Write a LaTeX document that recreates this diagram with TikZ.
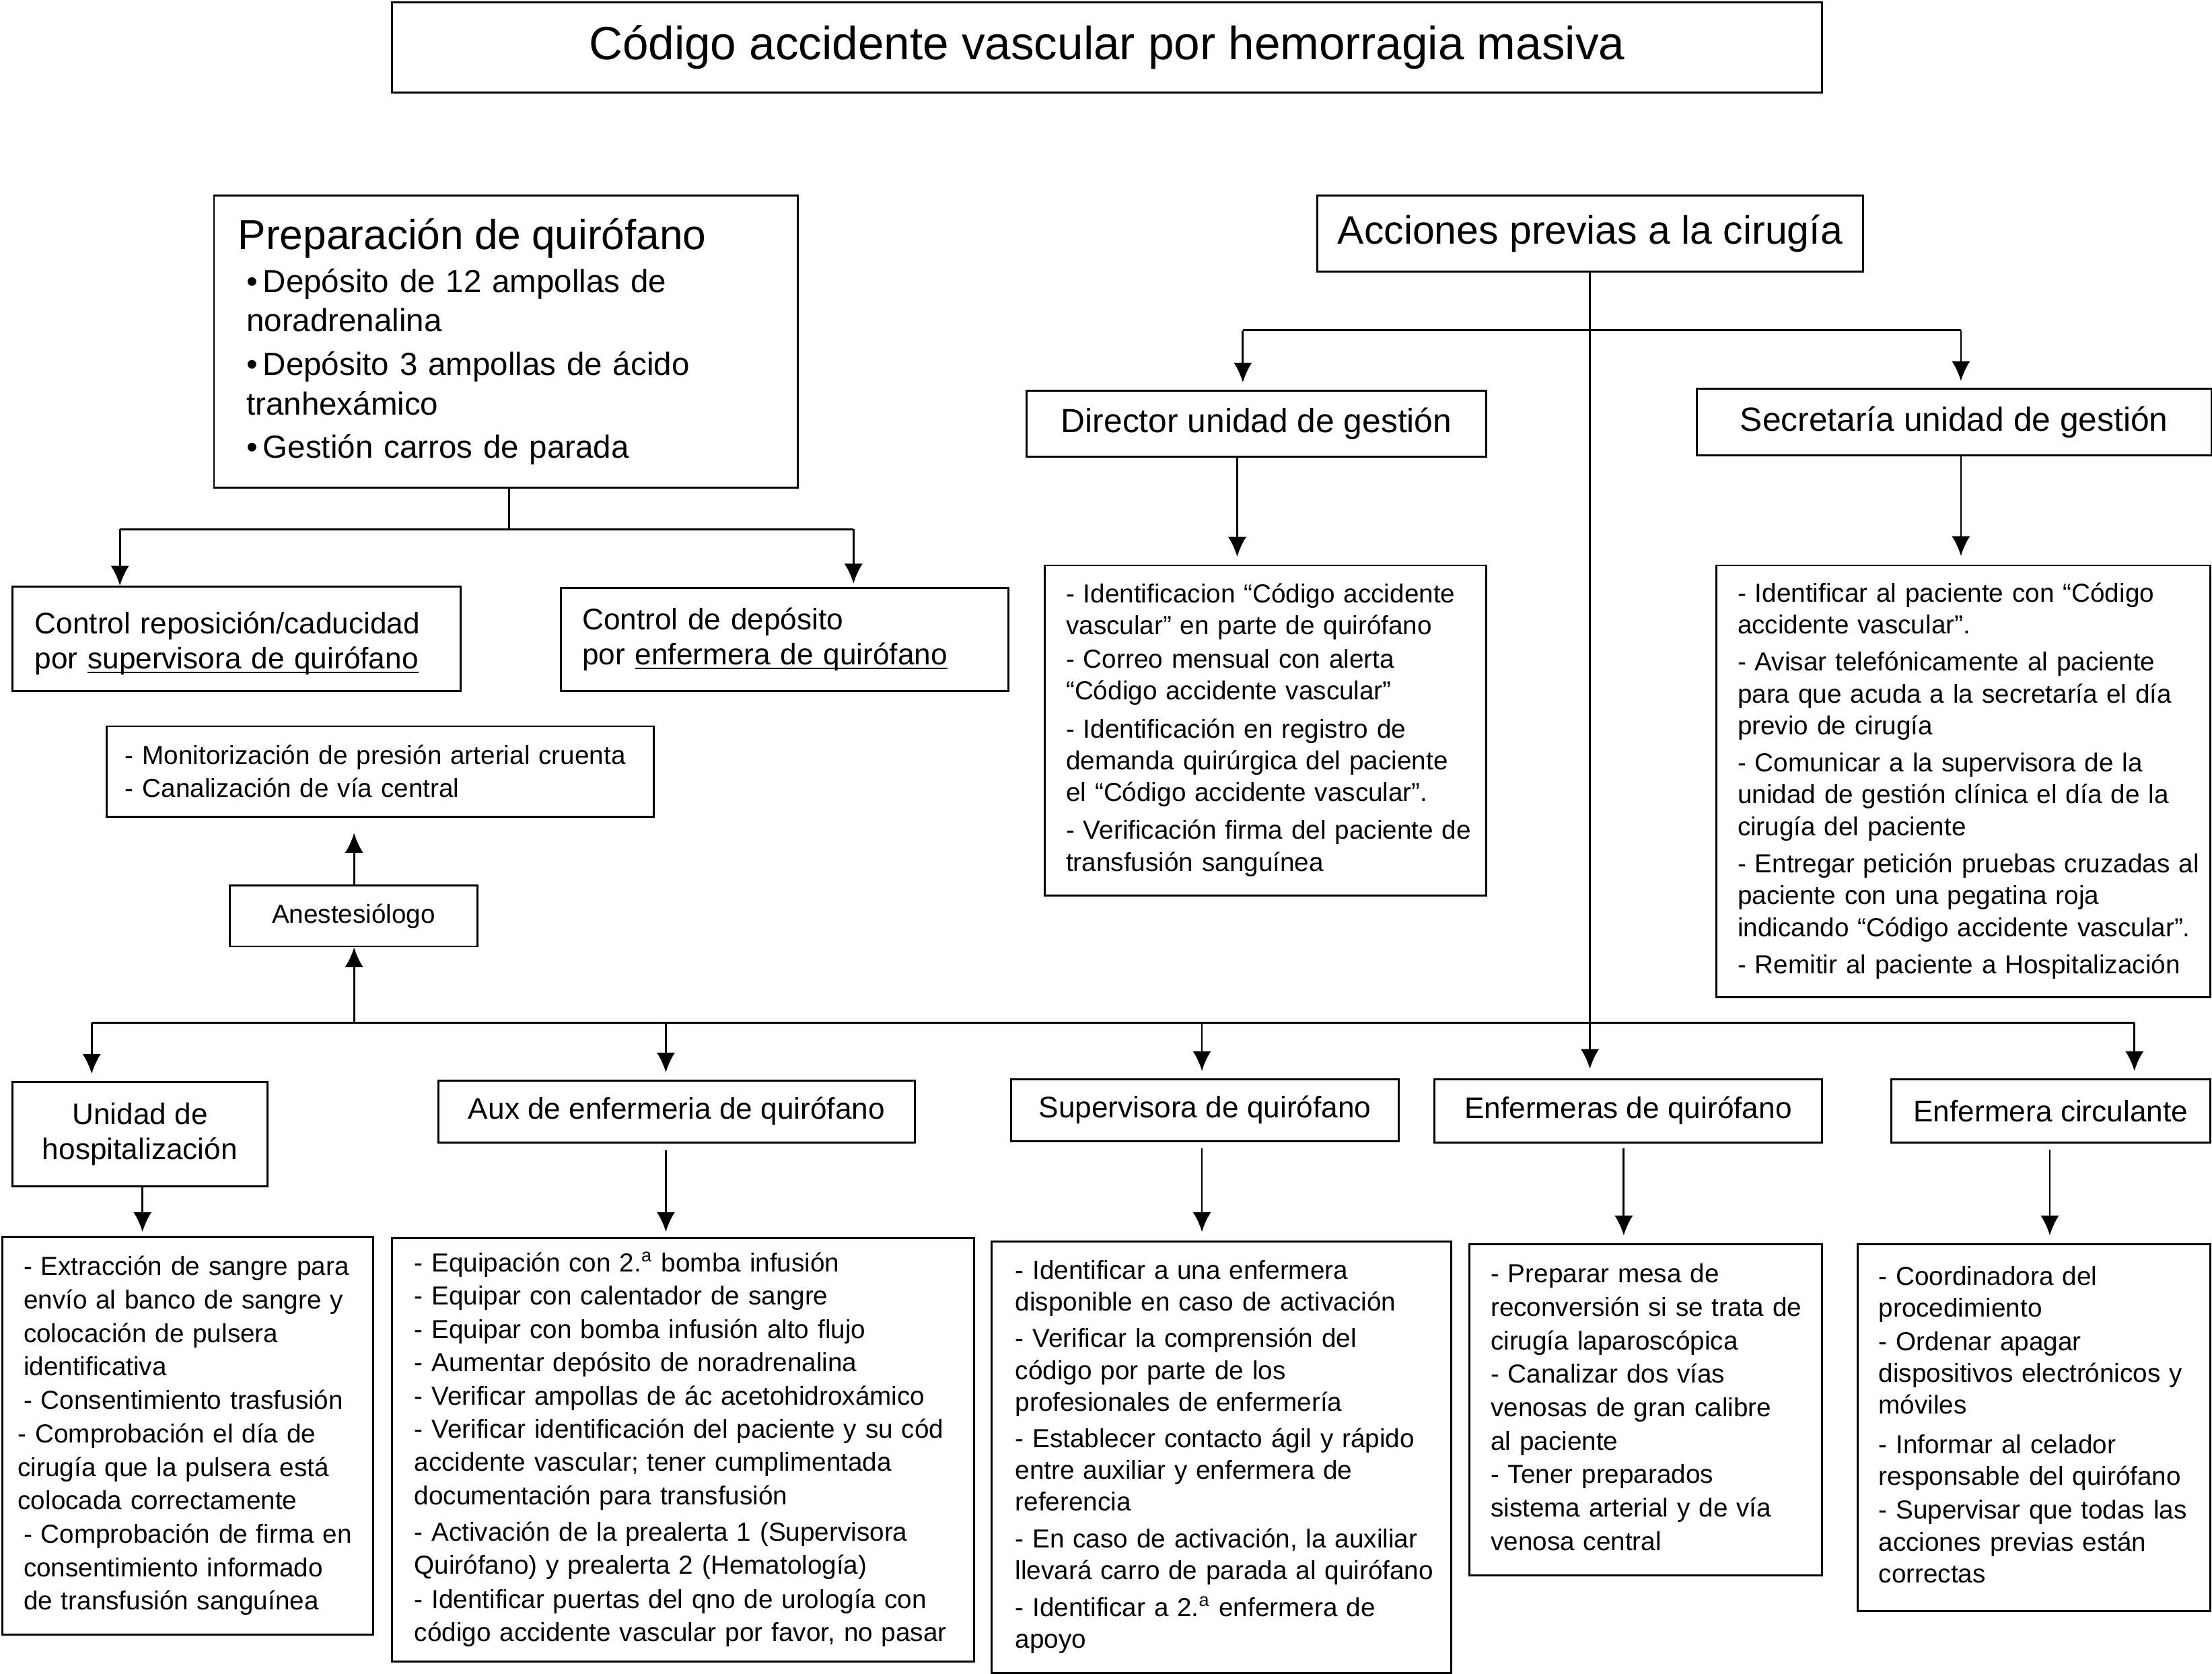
\documentclass[tikz,border=0pt]{standalone}
\usepackage{fontspec}
\setmainfont{Liberation Sans}
\usetikzlibrary{arrows.meta}

\newcommand\sztitle{\fontsize{18.8}{22}\selectfont}
\newcommand\szprep{\fontsize{16.9}{20}\selectfont}
\newcommand\szacc{\fontsize{16}{19}\selectfont}
\newcommand\szsub{\fontsize{13.5}{16}\selectfont}
\newcommand\szitem{\fontsize{12.9}{15.9}\selectfont}
\newcommand\szhead{\fontsize{12}{14.2}\selectfont}
\newcommand\szlist{\fontsize{10.5}{12.8}\selectfont}
\newcommand\cardlines[1]{\begin{tabular}{@{}l@{}}#1\end{tabular}}
\newcommand\uln[1]{\underline{\smash{#1}}}

\begin{document}
\begin{tikzpicture}[x = 0.02cm, y = -0.02cm, > = {Latex[length = 2.8mm, width = 2.6mm]},
	box/.style = {draw, line width = 0.8pt, inner sep = 0pt, anchor = north west},
	card/.style = {box, align = left, inner xsep = 0.3cm, font = \szlist},
	wire/.style = {line width = 0.75pt},
	feed/.style = {wire, ->}]

\useasboundingbox (0, 0) rectangle (1568, 1186);

% Title

\node [box, minimum width = 20.28cm, minimum height = 1.28cm, font = \sztitle] (title) at (277, 1) {Código accidente vascular por hemorragia masiva};

% Preparacion de quirofano

\node [box, align = left, text width = 7.6cm, inner xsep = 0.34cm, minimum height = 4.14cm, font = \szitem] (prep) at (151, 138)
	{{\szprep Preparación de quirófano}\\[1.4pt]
	\hspace*{0.12cm}•\,Depósito de 12 ampollas de\\ \hspace*{0.12cm}noradrenalina\\[1.7pt]
	\hspace*{0.12cm}•\,Depósito 3 ampollas de ácido\\ \hspace*{0.12cm}tranhexámico\\[1.7pt]
	\hspace*{0.12cm}•\,Gestión carros de parada};

\node [box, align = left, text width = 5.72cm, inner xsep = 0.32cm, minimum height = 1.48cm, font = \szhead] (ctrlrep) at (8, 415)
	{\rule{0pt}{12.6pt}Control reposición/caducidad\\ por \uln{supervisora de quirófano}};
\node [box, align = left, text width = 5.74cm, inner xsep = 0.3cm, minimum height = 1.46cm, font = \szhead] (ctrldep) at (397, 416)
	{Control de depósito\\ por \uln{enfermera de quirófano}};

\coordinate (prepjoin) at (361, 375);
\coordinate (ctrlrepin) at (85, 375);
\coordinate (ctrldepin) at (605, 375);

\draw [wire] (prep.south -| prepjoin) -- (prepjoin);
\draw [wire] (ctrlrepin) -- (ctrldepin);
\draw [feed] (ctrlrepin) -- (ctrlrepin |- ctrlrep.north);
\draw [feed, shorten > = 0.05cm] (ctrldepin) -- (ctrldepin |- ctrldep.north);

% Anestesiologo

\node [card, text width = 7.24cm, inner xsep = 0.26cm, minimum height = 1.28cm, font = \fontsize{10.5}{13.1}\selectfont] (monit) at (75, 514)
	{\cardlines{\rule{0pt}{11.5pt}- Monitorización de presión arterial cruenta\\ - Canalización de vía central}};
\node [box, minimum width = 3.52cm, minimum height = 0.86cm, font = \szlist] (anest) at (162, 627) {Anestesiólogo};

% Acciones previas a la cirugia

\node [box, minimum width = 7.74cm, minimum height = 1.08cm, font = \szacc] (acc) at (933, 138) {Acciones previas a la cirugía};
\node [box, minimum width = 6.52cm, minimum height = 0.94cm, font = \szsub] (dirhead) at (727, 276) {Director unidad de gestión};
\node [box, minimum width = 7.3cm, minimum height = 0.94cm, font = \szsub] (sechead) at (1202, 275) {Secretaría unidad de gestión};

\node [card, text width = 5.66cm, minimum height = 4.68cm] (dirlist) at (740, 400)
	{\cardlines{- Identificacion “Código accidente\\ vascular” en parte de quirófano\\[0.85pt]
	- Correo mensual con alerta\\ “Código accidente vascular”\\[2.5pt]
	- Identificación en registro de\\ demanda quirúrgica del paciente\\ el “Código accidente vascular”.\\[2.5pt]
	- Verificación firma del paciente de\\ transfusión sanguínea}};

\node [card, text width = 6.4cm, minimum height = 6.12cm, font = \fontsize{10.5}{12.9}\selectfont] (seclist) at (1216, 400)
	{\cardlines{- Identificar al paciente con “Código\\ accidente vascular”.\\[2pt]
	- Avisar telefónicamente al paciente\\ para que acuda a la secretaría el día\\ previo de cirugía\\[2pt]
	- Comunicar a la supervisora de la\\ unidad de gestión clínica el día de la\\ cirugía del paciente\\[2pt]
	- Entregar petición pruebas cruzadas al\\ paciente con una pegatina roja\\ indicando “Código accidente vascular”.\\[2pt]
	- Remitir al paciente a Hospitalización}};

\coordinate (dirin) at (881, 234);
\coordinate (secin) at (1390, 234);
\coordinate (dirout) at (877, 0);

\draw [wire] (dirin) -- (secin);
\draw [feed, shorten > = 0.1cm] (dirin) -- (dirin |- dirhead.north);
\draw [feed, shorten > = 0.1cm] (secin) -- (secin |- sechead.north);
\draw [feed, shorten > = 0.11cm] (dirout |- dirhead.south) -- (dirout |- dirlist.north);
\draw [feed, shorten > = 0.12cm] (secin |- sechead.south) -- (secin |- seclist.north);

% Personal de quirofano

\node [box, align = center, minimum width = 3.62cm, minimum height = 1.48cm, font = \szhead] (hosphead) at (8, 766) {Unidad de\\ hospitalización};
\node [box, minimum width = 6.76cm, minimum height = 0.88cm, font = \szhead] (auxhead) at (310, 765) {Aux de enfermeria de quirófano};
\node [box, minimum width = 5.5cm, minimum height = 0.88cm, font = \szhead] (suphead) at (716, 764) {Supervisora de quirófano};
\node [box, minimum width = 5.5cm, minimum height = 0.9cm, font = \szhead] (enfhead) at (1016, 764) {Enfermeras de quirófano};
\node [box, minimum width = 4.52cm, minimum height = 0.9cm, font = \szhead] (circhead) at (1340, 764) {Enfermera circulante};

\node [card, text width = 4.66cm, minimum height = 5.64cm, font = \fontsize{10.5}{13.5}\selectfont] (hosplist) at (1, 876)
	{\cardlines{- Extracción de sangre para\\ envío al banco de sangre y\\ colocación de pulsera\\ identificativa\\
	- Consentimiento trasfusión\\
	\hspace*{-0.08cm}- Comprobación el día de\\ \hspace*{-0.08cm}cirugía que la pulsera está\\ \hspace*{-0.08cm}colocada correctamente\\
	- Comprobación de firma en\\ consentimiento informado\\ de transfusión sanguínea}};

\node [card, text width = 7.62cm, inner xsep = 0.32cm, minimum height = 6cm, font = \fontsize{10.5}{13.4}\selectfont] (auxlist) at (277, 877)
	{\cardlines{- Equipación con 2.\textsuperscript{a} bomba infusión\\
	- Equipar con calentador de sangre\\
	- Equipar con bomba infusión alto flujo\\
	- Aumentar depósito de noradrenalina\\
	- Verificar ampollas de ác acetohidroxámico\\
	- Verificar identificación del paciente y su cód\\ accidente vascular; tener cumplimentada\\ documentación para transfusión\\[1.4pt]
	- Activación de la prealerta 1 (Supervisora\\ Quirófano) y prealerta 2 (Hematología)\\[0.3pt]
	- Identificar puertas del qno de urología con\\ código accidente vascular por favor, no pasar}};

\node [card, text width = 5.84cm, inner xsep = 0.34cm, minimum height = 6.12cm] (suplist) at (702, 879)
	{\cardlines{- Identificar a una enfermera\\ disponible en caso de activación\\[2pt]
	- Verificar la comprensión del\\ código por parte de los\\ profesionales de enfermería\\[2pt]
	- Establecer contacto ágil y rápido\\ entre auxiliar y enfermera de\\ referencia\\[2pt]
	- En caso de activación, la auxiliar\\ llevará carro de parada al quirófano\\[2pt]
	- Identificar a 2.\textsuperscript{a} enfermera de\\ apoyo}};

\node [card, text width = 4.4cm, minimum height = 4.7cm, font = \fontsize{10.5}{13.5}\selectfont] (enflist) at (1041, 881)
	{\cardlines{- Preparar mesa de\\ reconversión si se trata de\\ cirugía laparoscópica\\
	- Canalizar dos vías\\ venosas de gran calibre\\ al paciente\\
	- Tener preparados\\ sistema arterial y de vía\\ venosa central}};

\node [card, text width = 4.4cm, minimum height = 5.2cm] (circlist) at (1316, 881)
	{\cardlines{- Coordinadora del\\ procedimiento\\[0.85pt]
	- Ordenar apagar\\ dispositivos electrónicos y\\ móviles\\[3.1pt]
	- Informar al celador\\ responsable del quirófano\\[0.85pt]
	- Supervisar que todas las\\ acciones previas están\\ correctas}};

\coordinate (hospin) at (65, 725);
\coordinate (anestin) at (251, 725);
\coordinate (auxin) at (472, 725);
\coordinate (supin) at (852, 725);
\coordinate (enfin) at (1127, 725);
\coordinate (circin) at (1513, 725);
\coordinate (hospout) at (101, 0);
\coordinate (enfout) at (1151, 0);
\coordinate (circout) at (1453, 0);

\draw [wire] (hospin) -- (circin);
\draw [feed, shorten > = 0.13cm] (acc.south -| enfin) -- (enfin |- enfhead.north);
\draw [feed] (anestin) -- (anestin |- anest.south);
\draw [feed, shorten > = 0.22cm] (anestin |- anest.north) -- (anestin |- monit.south);
\foreach \junc/\hnode in {hospin/hosphead, auxin/auxhead, supin/suphead, circin/circhead}
	\draw [feed, shorten > = 0.1cm] (\junc) -- (\junc |- \hnode.north);

\draw [feed, shorten > = 0.06cm] (hospout |- hosphead.south) -- (hospout |- hosplist.north);
\draw [feed, shorten < = 0.1cm, shorten > = 0.08cm] (auxin |- auxhead.south) -- (auxin |- auxlist.north);
\draw [feed, shorten < = 0.09cm, shorten > = 0.12cm] (supin |- suphead.south) -- (supin |- suplist.north);
\draw [feed, shorten < = 0.07cm, shorten > = 0.11cm] (enfout |- enfhead.south) -- (enfout |- enflist.north);
\draw [feed, shorten < = 0.09cm, shorten > = 0.11cm] (circout |- circhead.south) -- (circout |- circlist.north);

\end{tikzpicture}
\end{document}
